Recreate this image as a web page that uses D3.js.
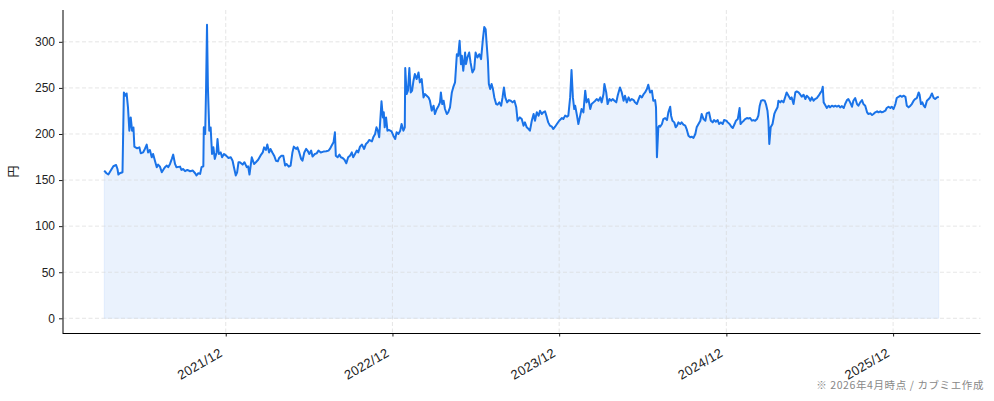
<!DOCTYPE html>
<html>
<head>
<meta charset="utf-8">
<script src="https://cdn.jsdelivr.net/npm/d3@7"></script>
<style>
  body { margin: 0; background: #fff; }
  svg { display: block; font-family: "Noto Sans CJK JP", "DejaVu Sans", sans-serif; }
</style>
</head>
<body>
<svg id="chart" width="994" height="401"></svg>
<script>
// first close of the series, every point below is "days after" this date
const startDate = new Date(2021, 2, 10);

const dayNo = [
  0,5,9,12,20,26,29,31,34,40,43,46,49,52,55,58,61,64,66,72,77,80,85,89,93,96,100,104,107,111,
  115,118,122,126,129,133,137,140,144,148,151,155,158,166,169,173,177,182,188,194,199,202,206,210,213,217,218,221,223,225,
  227,230,233,236,239,242,246,248,251,255,258,262,267,272,277,281,284,288,291,294,
  297,303,307,312,315,318,323,328,332,337,342,347,350,354,357,361,364,368,372,376,
  380,383,388,392,396,399,404,408,412,415,420,423,427,431,434,438,442,445,449,453,
  456,461,465,469,474,480,486,491,494,498,502,505,507,511,515,518,522,526,530,534,
  538,542,545,549,553,556,560,564,569,573,577,580,586,589,593,596,599,602,
  607,610,612,614,617,620,624,629,633,637,640,644,648,651,655,658,659,662,665,668,
  671,674,677,680,684,688,691,695,699,702,706,710,713,717,721,724,728,732,735,737,
  740,743,746,750,753,757,761,764,768,772,775,778,781,783,786,790,792,795,799,802,
  806,810,813,817,821,825,829,832,835,837,840,842,845,848,851,854,858,861,865,869,
  872,875,878,882,886,890,894,898,902,905,907,
  910,914,918,921,925,929,932,936,940,943,947,951,954,958,961,965,969,972,976,980,
  983,987,991,996,1002,1005,1009,1013,1016,1020,1023,1026,1029,1031,1035,1038,1042,1045,1049,1053,
  1056,1060,1064,1067,1071,1075,1078,1082,1086,1089,1093,1095,1099,1102,1106,1110,1113,1117,1121,1124,
  1129,1133,1137,1140,1144,1148,1151,1155,1159,1162,1166,1170,1173,1177,1181,1184,1188,1191,1195,1199,
  1202,1206,1208,1210,1213,1215,
  1217,1221,1224,1228,1232,1235,1239,1241,1244,1248,1251,1254,1257,1261,1264,1268,1272,1275,1279,1283,
  1286,1290,1294,1297,1301,1305,1308,1312,1316,1319,1324,1328,1332,1335,1339,1343,1346,1350,1354,1357,
  1362,1365,1369,1373,1376,1380,1383,1387,1391,1393,1396,1400,1403,1407,1410,1414,1418,1421,1425,1429,
  1432,1435,1438,1442,1446,1449,1452,1454,1456,1459,1463,1467,1470,1474,1476,1480,1483,1487,1491,1494,
  1498,1502,1505,1509,1513,1516,1520,
  1524,1527,1531,1535,1538,1542,1546,1549,1553,1556,1560,1564,1567,1571,1573,1575,1578,1582,1586,1589,
  1593,1597,1600,1604,1608,1611,1615,1619,1622,1626,1629,1633,1637,1640,1644,1648,1651,1655,1659,1662,
  1666,1670,1673,1677,1681,1684,1688,1692,1695,1699,1702,1706,1710,1713,1717,1721,1724,1728,1732,1735,
  1739,1743,1746,1750,1754,1757,1761,1765,1768,1772,1775,1779,1783,1785,1788,1791,1794,1797,1801,1805,
  1808,1812,1816,1819,1823,1827
];

// closing price (円)
const price = [
  160.3,157.4,156,158.5,165,166.4,162,156,157.4,158.5,245.1,241.5,244,229,203.6,218,203.6,207,186.3,184.5,
  185.5,179,180,183.8,188.5,180,182.7,174.7,178.3,171,164,166.8,164.6,158.5,161,164,165.7,164,167.5,173,
  177.6,167.5,164,164.6,161,162,159.6,161,159.6,160.3,157.4,155,157.4,156.7,164,165,207.2,200,250.5,318.6,
  250.5,203.6,207,178.3,185.5,173,180,194.6,178.3,180,174.7,178.3,176.5,174,174.7,171,164,155,158.5,169.4,
  169.4,166.8,169.4,164,165,156,174.7,167.5,169.4,172,176.5,180,185.5,182.7,188.5,180,183.8,180,176.5,171,
  170.4,174,176.5,176.5,165.7,167.5,164.6,165.7,180,186.3,183.8,185.5,180,173,171,180,183.8,182,178.3,182,
  175.5,178.3,179,182,180,180.9,181.2,182,183.8,187.4,191,201.8,176.5,174.7,177.6,174.7,174,172,168.2,174.7,
  176.5,180,174.7,178.3,182,180,186.3,188.5,183.8,189.2,191,193.5,192,196.4,200,207.2,203.6,196.4,
  235.4,218,223.5,207.2,218,203.6,204.3,202.9,198.2,194.6,201.8,200,203.6,210.8,203.6,207.2,271.5,243.3,247,271.5,
  245.1,247,257.8,265,259.6,266.8,256,259.6,239.7,243.3,241.5,239.7,236.1,225.3,230.7,221.7,227.1,230.7,234.3,245.1,
  232.5,236.1,227.1,221.7,223.5,228.9,245.1,250.5,256,286.6,284.8,301.1,275.8,284.8,268.6,288.4,275.8,283,288.4,277.6,
  266.8,270.4,288.4,283,286.6,281.2,302.9,316.2,313.7,299.3,279.4,254.2,248.7,254.2,248.7,239.7,232.5,231.8,234.3,230.7,
  239.7,250.5,239.7,234.3,236.8,236.1,234.3,236.1,228.9,214.4,216.2,
  218,216.2,209,212.6,207.2,205.4,203.6,214.4,221.7,214.4,223.5,219.9,225.3,221.7,223.5,224.6,218,212.6,209,207.9,
  205.4,207.9,210.8,214.4,217.3,216.2,219.9,218.8,219.9,239.7,269.3,239.7,227.1,230.7,219.9,210.8,219.9,227.1,223.5,247,
  234.3,237.9,227.1,232.5,234.3,236.1,237.9,236.1,239.7,234.3,243.3,254.2,245.1,232.5,237.9,236.1,237.9,236.1,234.3,241.5,
  250.5,245.1,236.1,241.5,234.3,239.7,236.1,237.9,236.8,234.3,232.5,237.9,241.5,239.7,243.3,245.1,248.7,253.4,245.1,247,
  236.1,236.8,228.9,174.7,207.2,209,
  207.9,210.8,216.2,217.3,215.1,223.5,229.6,219.9,214.4,212.6,207.2,209,212.6,210.8,212.6,210.1,209,205.4,198.2,196.4,
  197.1,195.7,200,207.2,210.8,214.4,221.7,216.2,214.4,222.4,223.5,214.4,212.6,215.1,213.4,215.1,210.8,212.6,210.8,215.1,
  214.4,212.6,210.8,207.9,206.5,210.8,214.4,216.2,228.2,210.8,212.6,214.4,216.2,217.3,216.9,217.3,214.4,215.1,214.4,216.2,
  219.9,230.7,236.1,236.8,236.1,231.8,225.3,214.4,189.2,207.2,210.8,221.7,225.3,228.9,236.1,234.3,236.1,234.3,240.4,245.1,
  241.5,237.9,239.7,232.5,245.1,246.2,245.1,
  242.6,240.4,242.6,237.9,241.5,239.7,236.1,239.7,236.1,237.9,239,241.5,244,246.9,251.3,234.3,231.8,228.2,230.7,228.9,
  230.7,229.6,230.7,229.6,230.7,228.9,230.3,228.2,232.5,236.8,237.9,234.3,229.6,236.1,239,232.5,230.7,234.3,236.8,232.5,
  230.7,223.5,221.7,222.4,220.6,221.7,223.5,224.6,223.5,224.6,223.5,224.2,225.3,228.2,229.6,228.2,229.6,227.1,232.5,239,
  240.4,241.5,240.4,241.5,240.4,230.7,228.9,230.7,232.5,236.1,237.9,239,245.1,242.6,232.5,234.3,230.7,228.9,236.1,237.9,
  239.7,244,239,237.9,239.7,240.4
];

const yTicks = [0, 50, 100, 150, 200, 250, 300];
const xTickMonths = ["2021-12", "2022-12", "2023-12", "2024-12", "2025-12"];
const yLabel = "円";
const footnote = "※ 2026年4月時点 / カブミエ作成";

const lineColor = "#1a73e8";

const data = dayNo.map((d, i) => ({ date: d3.timeDay.offset(startDate, d), v: price[i] }));

const svg = d3.select("#chart");
const box = { left: 62.5, right: 980.5, top: 10, bottom: 333 };

// matplotlib style 5% margins
const tExt = d3.extent(data, d => d.date);
const tPad = (tExt[1] - tExt[0]) * 0.05;
const x = d3.scaleTime()
  .domain([new Date(+tExt[0] - tPad), new Date(+tExt[1] + tPad)])
  .range([box.left, box.right]);

const vMax = d3.max(data, d => d.v);
const vPad = vMax * 0.05;
const y = d3.scaleLinear()
  .domain([0 - vPad, vMax + vPad])
  .range([box.bottom, box.top]);

const parseMonth = d3.timeParse("%Y-%m");
const xTicks = xTickMonths.map(parseMonth);

// area first, grid over it, line on top
svg.append("path")
  .datum(data)
  .attr("fill", lineColor)
  .attr("fill-opacity", 0.09)
  .attr("stroke", lineColor)
  .attr("stroke-opacity", 0.08)
  .attr("d", d3.area().x(d => x(d.date)).y0(y(0)).y1(d => y(d.v)));

const grid = svg.append("g")
  .attr("stroke", "#d6d6d6")
  .attr("stroke-width", 0.8)
  .attr("stroke-dasharray", "4,2.5")
  .attr("opacity", 0.75);
grid.selectAll(".gy").data(yTicks).join("line")
  .attr("x1", box.left).attr("x2", box.right)
  .attr("y1", d => y(d)).attr("y2", d => y(d));
grid.selectAll(".gx").data(xTicks).join("line")
  .attr("x1", d => x(d)).attr("x2", d => x(d))
  .attr("y1", box.top).attr("y2", box.bottom);

svg.append("path")
  .datum(data)
  .attr("fill", "none")
  .attr("stroke", lineColor)
  .attr("stroke-width", 2)
  .attr("stroke-linejoin", "round")
  .attr("d", d3.line().x(d => x(d.date)).y(d => y(d.v)));

// axes
const yAxis = svg.append("g")
  .attr("transform", `translate(${box.left},0)`)
  .call(d3.axisLeft(y).tickValues(yTicks).tickSize(3.5).tickPadding(4));
const xAxis = svg.append("g")
  .attr("transform", `translate(0,${box.bottom})`)
  .call(d3.axisBottom(x).tickValues(xTicks).tickFormat(d3.timeFormat("%Y/%m")).tickSize(3.5).tickPadding(4));

[yAxis, xAxis].forEach(g => {
  g.select(".domain").attr("stroke", "#000").attr("stroke-width", 1);
  g.selectAll(".tick line").attr("stroke", "#000").attr("stroke-width", 0.9);
  g.selectAll("text").attr("fill", "#222").style("font-size", "12px");
});
yAxis.select(".domain").attr("d", `M0.5,${box.top}V${box.bottom}`);
xAxis.select(".domain").attr("d", `M${box.left},0.5H${box.right}`);

xAxis.selectAll(".tick text")
  .attr("text-anchor", "end")
  .attr("transform", "translate(-12,7) rotate(-30)")
  .attr("dx", "0")
  .attr("dy", "0.8em")
  .style("font-size", "13px")
  .style("letter-spacing", "0.3px");

svg.append("text")
  .attr("transform", `translate(18,${(box.top + box.bottom) / 2}) rotate(-90)`)
  .attr("text-anchor", "middle")
  .attr("fill", "#222")
  .style("font-size", "12px")
  .text(yLabel);

svg.append("text")
  .attr("x", 984)
  .attr("y", 389)
  .attr("text-anchor", "end")
  .attr("fill", "#888")
  .style("font-size", "10.5px")
  .style("letter-spacing", "0.6px")
  .text(footnote);
</script>
</body>
</html>
